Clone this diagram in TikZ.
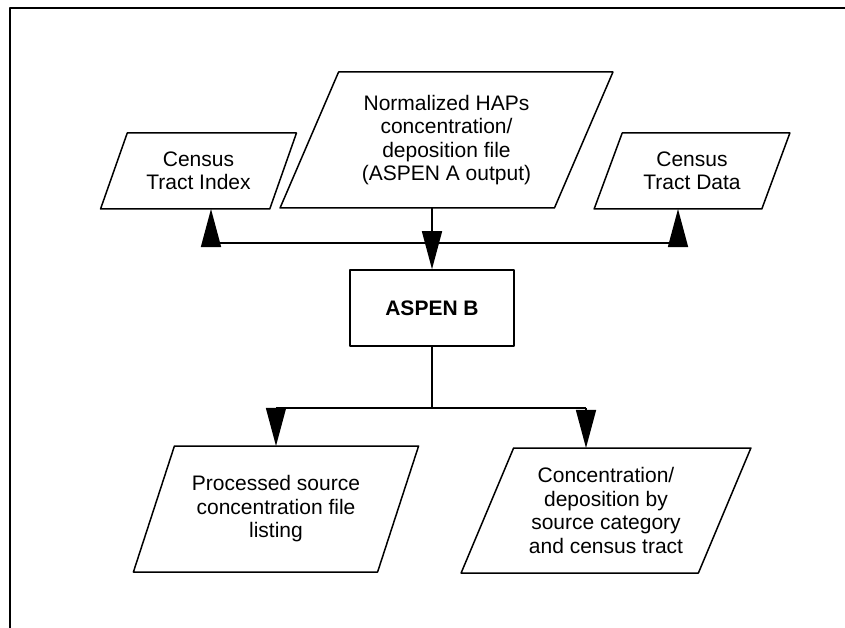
\documentclass[tikz,border=0pt]{standalone}
\usepackage{fontspec}
\setmainfont{Liberation Sans}
\usetikzlibrary{shapes.geometric,arrows.meta}
\begin{document}
\begin{tikzpicture}[x=1pt,y=-1pt,line join=round,line width=1.5pt,
		font=\fontsize{21}{23.5}\selectfont,
		slant/.style={draw,trapezium,trapezium left angle=63,trapezium right angle=117,
			trapezium stretches=true,align=center,inner sep=0pt,outer sep=0pt},
		arr/.style={-{Triangle[length=38pt,width=20pt]}}]
	\useasboundingbox (0,0) rectangle (845,628);
	\draw[line width=1.8pt] (10,628)--(10,8)--(845,8);
	\node[slant,minimum width=196pt,minimum height=76pt] (idx) at (198.5,171) {Census\\Tract Index};
	\node[slant,minimum width=333pt,minimum height=136pt] (norm) at (446.5,140) {Normalized HAPs\\concentration/\\deposition file\\(ASPEN A output)};
	\node[slant,minimum width=196pt,minimum height=76pt] (data) at (692,171) {Census\\Tract Data};
	\node[draw,minimum width=164pt,minimum height=76pt,inner sep=0pt,font=\fontsize{21}{23.5}\selectfont\bfseries] (aspen) at (432,308) {ASPEN B};
	\node[slant,minimum width=286pt,minimum height=126pt] (proc) at (276,509) {Processed source\\concentration file\\listing};
	\node[slant,minimum width=290pt,minimum height=125pt] (conc) at (606,510.5) {Concentration/\\deposition by\\source category\\and census tract};
	\coordinate (jl) at (211,243);
	\coordinate (jr) at (678,243);
	\coordinate (bl) at (276,408);
	\coordinate (br) at (586,408);
	\draw (jl)--(jr);
	\draw[arr] (jl)--(jl |- idx.south);
	\draw[arr] (jr)--(jr |- data.south);
	\draw[arr] (norm.south -| aspen.north)--(aspen.north);
	\draw (aspen.south)--(aspen.south |- bl);
	\draw (bl)--(br);
	\draw[arr] (bl)--(bl |- proc.north);
	\draw[arr] (br)--(br |- conc.north);
\end{tikzpicture}
\end{document}
